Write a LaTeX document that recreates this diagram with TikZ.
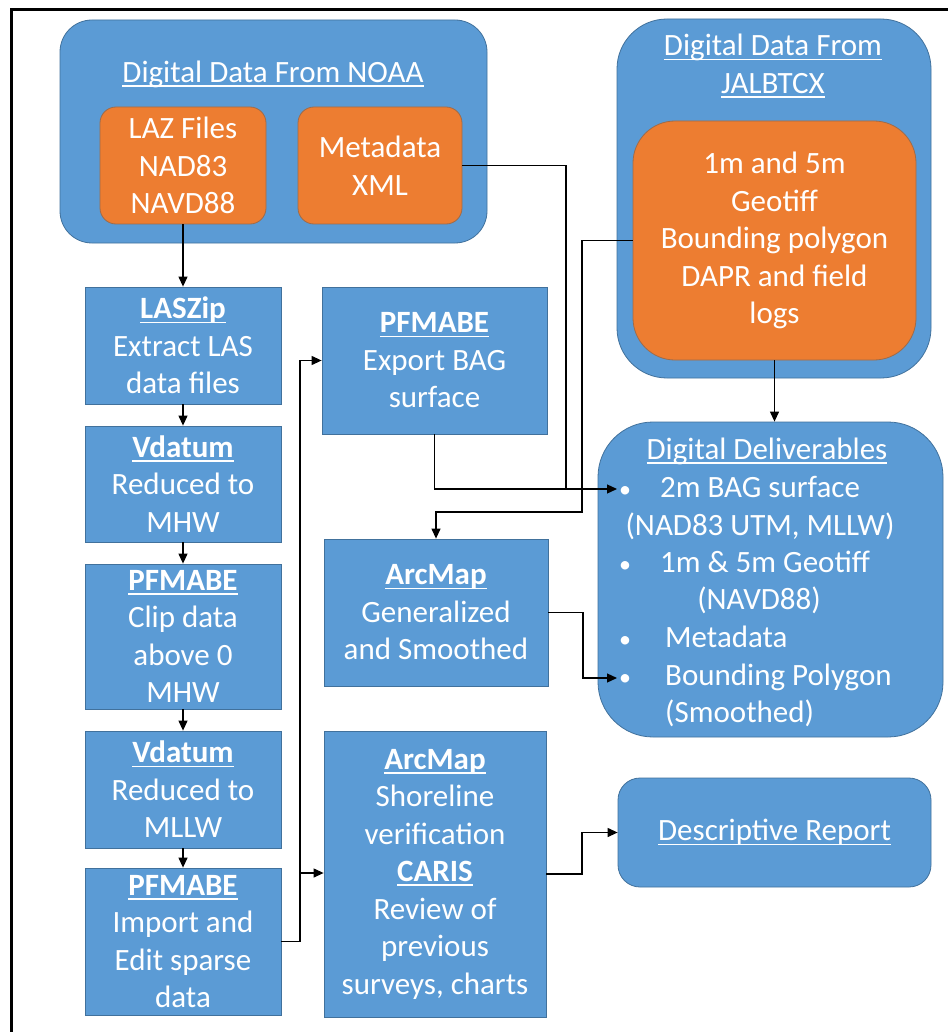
\documentclass[tikz,border=0pt]{standalone}
\usepackage{fontspec}
\setmainfont{Carlito}
\usetikzlibrary{arrows.meta}
\definecolor{bl}{HTML}{5B9BD5}
\definecolor{bd}{HTML}{41719C}
\definecolor{og}{HTML}{ED7D31}
\definecolor{ogd}{HTML}{9E6B4A}
\newcommand\uln[1]{\setbox0\hbox{#1}\rlap{\rule[-4.5pt]{\wd0}{1.6pt}}\box0}
\begin{document}
\begin{tikzpicture}[x=1pt,y=-1pt,
 txt/.style={text=white,font=\fontsize{31}{37.5}\selectfont},
 bbox/.style={txt,draw=bd,line width=0.8pt,fill=bl,align=center,inner sep=0pt},
 obox/.style={txt,draw=ogd,line width=0.8pt,fill=og,align=center,inner sep=0pt},
 conn/.style={line width=1.2pt,black},
 arr/.style={conn,-{Triangle[length=10pt,width=9pt]}},
 lbl/.style={txt,inner sep=0pt,text height=22pt,text depth=7pt}]
\useasboundingbox (0,0) rectangle (947,1032);
\fill[white] (0,0) rectangle (947,1032);
\draw[line width=3pt] (11,1040) -- (11,10) -- (960,10);

% top groups
\node[bbox,rounded corners=32pt,minimum width=427pt,minimum height=223pt] (noaa) at (273.5,131.5) {};
\node[lbl] (noaat) at (273,75) {\uln{Digital Data From NOAA}};
\node[obox,rounded corners=16pt,minimum width=166pt,minimum height=117pt] (laz) at (183,165.5) {LAZ Files\\NAD83\\NAVD88};
\node[obox,rounded corners=16pt,minimum width=164pt,minimum height=117pt] (meta) at (380,165.5) {Metadata\\XML};

\node[bbox,rounded corners=50pt,minimum width=314pt,minimum height=359pt] (jal) at (774,198.5) {};
\node[txt,align=center,inner sep=0pt] (jalt) at (773,66) {\uln{Digital Data From}\\\uln{JALBTCX}};
\node[obox,rounded corners=42pt,minimum width=283pt,minimum height=239pt] (jalin) at (774.5,240.5) {1m and 5m\\Geotiff\\Bounding polygon\\DAPR and field\\logs};

% left column
\node[bbox,minimum width=196pt,minimum height=117pt] (laszip) at (183,345.5) {\uln{\bfseries LASZip}\\Extract LAS\\data files};
\node[bbox,minimum width=196pt,minimum height=116pt] (vd1) at (183,484) {\uln{\bfseries Vdatum}\\Reduced to\\MHW};
\node[bbox,minimum width=196pt,minimum height=145pt] (clip) at (183,636.5) {\uln{\bfseries PFMABE}\\Clip data\\above 0\\MHW};
\node[bbox,minimum width=196pt,minimum height=117pt] (vd2) at (183,789.5) {\uln{\bfseries Vdatum}\\Reduced to\\MLLW};
\node[bbox,minimum width=196pt,minimum height=147pt] (imp) at (183,941.5) {\uln{\bfseries PFMABE}\\Import and\\Edit sparse\\data};

% middle column
\node[bbox,minimum width=225pt,minimum height=147pt] (exp) at (434.5,360.5) {\uln{\bfseries PFMABE}\\Export BAG\\surface};
\node[bbox,minimum width=224pt,minimum height=147pt] (gen) at (436,612.5) {\uln{\bfseries ArcMap}\\Generalized\\and Smoothed};
\node[bbox,minimum width=222pt,minimum height=286pt] (shore) at (435,874) {\uln{\bfseries ArcMap}\\Shoreline\\verification\\\uln{\bfseries CARIS}\\Review of\\previous\\surveys, charts};

% right column
\node[bbox,rounded corners=55pt,minimum width=345pt,minimum height=315pt] (deliv) at (770.5,579.5) {};
\node[lbl] (delivt) at (767,452) {\uln{Digital Deliverables}};
\node[lbl,font=\fontsize{24}{30}\selectfont] (b1) at (625,490) {\textbullet};
\node[lbl,font=\fontsize{24}{30}\selectfont] (b2) at (625,565) {\textbullet};
\node[lbl,font=\fontsize{24}{30}\selectfont] (b3) at (625,640) {\textbullet};
\node[lbl,font=\fontsize{24}{30}\selectfont] (b4) at (625,678) {\textbullet};
\node[lbl] (l1) at (760,490) {2m BAG surface};
\node[lbl] (l2) at (760,528) {(NAD83 UTM, MLLW)};
\node[lbl] (l3) at (765,565) {1m \& 5m Geotiff};
\node[lbl] (l4) at (759,602) {(NAVD88)};
\node[lbl,anchor=west] (l5) at (665,640) {Metadata};
\node[lbl,anchor=west] (l6) at (665,678) {Bounding Polygon};
\node[lbl,anchor=west] (l7) at (665,715) {(Smoothed)};

\node[bbox,rounded corners=22pt,minimum width=313pt,minimum height=109pt] (desc) at (774.5,832.5) {\uln{Descriptive Report}};

% junction coordinates
\coordinate (mj) at (566,489);
\coordinate (d1) at (617,489);
\coordinate (j1) at (582,512);
\coordinate (g1) at (583,678);
\coordinate (d4) at (617,678);
\coordinate (i1) at (300,873);
\coordinate (s1) at (582,832.5);

% connectors
\draw[arr] (laz.south) -- (laszip.north);
\draw[arr] (laszip.south) -- (vd1.north);
\draw[arr] (vd1.south) -- (clip.north);
\draw[arr] (clip.south) -- (vd2.north);
\draw[arr] (vd2.south) -- (imp.north);
\draw[conn] (meta.east) -| (mj);
\draw[arr] (exp.south) |- (d1);
\draw[arr] (jalin.west) -| (j1) -| (gen.north);
\draw[arr] (gen.east) -| (g1) -- (d4);
\draw[arr] (jalin.south) -- (jalin.south |- deliv.north);
\draw[arr] (imp.east) -| (i1) |- (exp.west);
\draw[arr] (i1) -- (i1 -| shore.west);
\draw[arr] (shore.east) -| (s1) -- (desc.west);
\end{tikzpicture}
\end{document}
